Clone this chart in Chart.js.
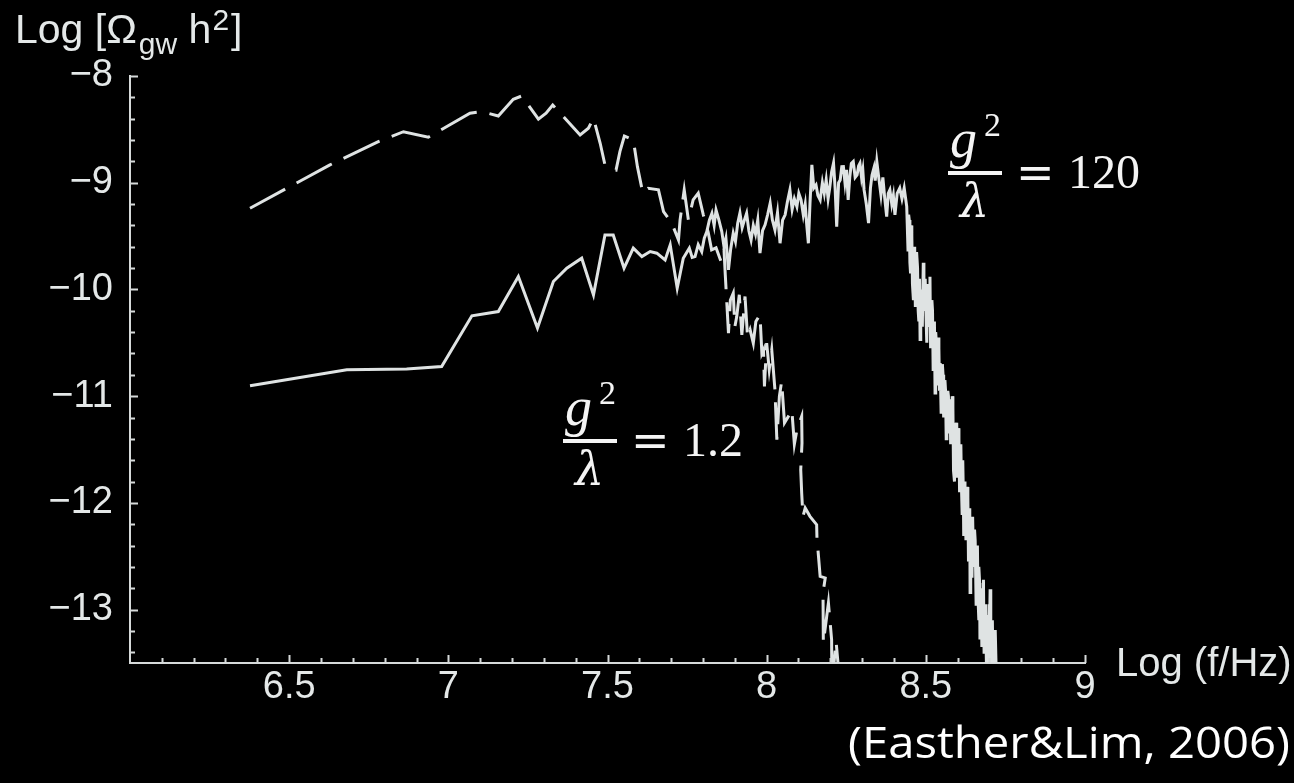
<!DOCTYPE html>
<html>
<head>
<meta charset="utf-8">
<script src="https://cdn.jsdelivr.net/npm/chart.js@4.4.1/dist/chart.umd.min.js"></script>
<style>
  html, body { margin: 0; padding: 0; background: #000; }
  #wrap { width: 1294px; height: 783px; }
</style>
</head>
<body>
<div id="wrap"><canvas id="chart" width="1294" height="783"></canvas></div>
<script>
// tick values
const xTicks = [6.5, 7, 7.5, 8, 8.5, 9];
const yTicks = [-13, -12, -11, -10, -9, -8];

// dashed curve, g^2/lambda = 1.2  [log f, log Omega h^2]
const dashedPoints = [
    [6.377, -9.239], [6.628, -8.833], [6.780, -8.615], [6.859, -8.522], [6.937, -8.574],
    [7.068, -8.349], [7.105, -8.334], [7.157, -8.375], [7.204, -8.218], [7.231, -8.187],
    [7.283, -8.405], [7.307, -8.349], [7.328, -8.272], [7.414, -8.552], [7.440, -8.490],
    [7.456, -8.396], [7.477, -8.630], [7.492, -8.833], [7.527, -8.880], [7.539, -8.709],
    [7.553, -8.562], [7.581, -8.599], [7.594, -8.849], [7.611, -9.098], [7.628, -9.052],
    [7.660, -9.067], [7.665, -9.130], [7.676, -9.271], [7.702, -9.379], [7.723, -9.536],
    [7.728, -9.348], [7.741, -9.067], [7.754, -9.348], [7.769, -9.161], [7.785, -9.098],
    [7.801, -9.301], [7.816, -9.461], [7.827, -9.629], [7.841, -9.610], [7.857, -9.742],
    [7.866, -9.629], [7.870, -9.863], [7.880, -10.409], [7.886, -10.10], [7.895, -10.035],
    [7.900, -10.35], [7.906, -10.254], [7.914, -10.05], [7.922, -10.425], [7.932, -10.066],
    [7.940, -10.45], [7.948, -10.378], [7.958, -10.503], [7.966, -10.30], [7.979, -10.238],
    [7.985, -10.60], [7.990, -10.566], [7.993, -10.909], [8.000, -10.503], [8.008, -10.75],
    [8.016, -10.566], [8.026, -10.940], [8.032, -11.408], [8.040, -11.00], [8.047, -10.862],
    [8.056, -11.25], [8.068, -11.190], [8.079, -11.127], [8.087, -11.45], [8.095, -11.315],
    [8.110, -11.190], [8.111, -11.439], [8.107, -11.689], [8.110, -11.907], [8.114, -12.127],
    [8.121, -12.048], [8.136, -12.126], [8.157, -12.204], [8.158, -12.329], [8.168, -12.688],
    [8.184, -12.703], [8.177, -12.841], [8.178, -13.312], [8.194, -12.937], [8.204, -13.281],
    [8.205, -13.7], [8.218, -13.297], [8.230, -13.7]
];

// solid curve, g^2/lambda = 120
const solidPoints = [
    [6.377, -10.903], [6.681, -10.753], [6.869, -10.746], [6.979, -10.722], [7.074, -10.247],
    [7.157, -10.207], [7.220, -9.879], [7.280, -10.362], [7.330, -9.926], [7.372, -9.801],
    [7.419, -9.707], [7.456, -10.051], [7.492, -9.489], [7.518, -9.489], [7.552, -9.801],
    [7.581, -9.613], [7.608, -9.692], [7.634, -9.645], [7.655, -9.660], [7.681, -9.723],
    [7.697, -9.582], [7.719, -9.988], [7.738, -9.707], [7.757, -9.613], [7.766, -9.70],
    [7.775, -9.692], [7.785, -9.58], [7.796, -9.645], [7.804, -9.52], [7.812, -9.458],
    [7.820, -9.35], [7.828, -9.286], [7.835, -9.40], [7.841, -9.255], [7.850, -9.35],
    [7.859, -9.458], [7.866, -9.60], [7.872, -9.52], [7.880, -9.816], [7.887, -9.62],
    [7.895, -9.473], [7.902, -9.55], [7.909, -9.38], [7.916, -9.283], [7.923, -9.42],
    [7.930, -9.35], [7.937, -9.286], [7.944, -9.45], [7.951, -9.536], [7.958, -9.40],
    [7.965, -9.48], [7.972, -9.35], [7.979, -9.660], [7.987, -9.45], [7.995, -9.395],
    [8.003, -9.30], [8.011, -9.192], [8.018, -9.35], [8.026, -9.442], [8.034, -9.28],
    [8.042, -9.567], [8.050, -9.35], [8.058, -9.301], [8.065, -9.18], [8.073, -9.067],
    [8.080, -9.25], [8.087, -9.15], [8.095, -9.224], [8.101, -9.10], [8.108, -9.161],
    [8.115, -9.30], [8.121, -9.20], [8.126, -9.40], [8.131, -9.567], [8.136, -9.20],
    [8.142, -8.833], [8.148, -9.05], [8.155, -9.021], [8.161, -9.12], [8.168, -9.161],
    [8.175, -9.00], [8.181, -9.10], [8.187, -8.974], [8.193, -9.15], [8.198, -9.05],
    [8.204, -8.90], [8.210, -8.817], [8.215, -9.05], [8.220, -9.411], [8.226, -9.00],
    [8.231, -8.974], [8.236, -8.85], [8.241, -8.849], [8.246, -9.00], [8.251, -8.88],
    [8.256, -9.161], [8.261, -8.95], [8.266, -8.82], [8.272, -8.802], [8.278, -8.95],
    [8.284, -8.927], [8.289, -8.84], [8.293, -8.817], [8.298, -8.95], [8.302, -8.88],
    [8.306, -9.067], [8.313, -9.20], [8.320, -9.379], [8.326, -9.05], [8.331, -8.927],
    [8.337, -8.86], [8.341, -8.98], [8.346, -8.802], [8.352, -8.95], [8.359, -9.114],
    [8.365, -8.95], [8.371, -9.15], [8.377, -9.317], [8.382, -9.10], [8.387, -9.067],
    [8.393, -9.20], [8.398, -9.12], [8.403, -9.301], [8.410, -9.10], [8.418, -9.051],
    [8.425, -9.15], [8.432, -9.05], [8.440, -9.224],
    [8.444, -9.63], [8.446, -9.30], [8.448, -9.35], [8.450, -9.75], [8.452, -9.85],
    [8.454, -9.40], [8.456, -9.50], [8.458, -9.95], [8.461, -10.10], [8.463, -9.60],
    [8.465, -9.70], [8.467, -10.15], [8.469, -10.00], [8.471, -9.65], [8.474, -9.80],
    [8.476, -10.20], [8.478, -10.30], [8.480, -9.90], [8.482, -10.47], [8.484, -10.10],
    [8.487, -10.00], [8.489, -10.35], [8.492, -9.75], [8.494, -10.15], [8.496, -10.20],
    [8.498, -9.90], [8.501, -10.29], [8.503, -10.50], [8.505, -9.95], [8.507, -10.25],
    [8.509, -10.35], [8.511, -10.05], [8.513, -9.88], [8.515, -10.55], [8.517, -10.40],
    [8.519, -10.10], [8.521, -10.20], [8.523, -10.75], [8.525, -10.60], [8.527, -10.30],
    [8.529, -10.97], [8.531, -10.40], [8.533, -10.50], [8.535, -10.90], [8.537, -10.75],
    [8.539, -10.45], [8.541, -10.55], [8.543, -10.95], [8.545, -10.69], [8.548, -11.15],
    [8.550, -11.00], [8.552, -10.70], [8.554, -10.80], [8.556, -11.20], [8.558, -11.10],
    [8.560, -10.85], [8.562, -10.95], [8.564, -11.40], [8.566, -11.25], [8.569, -10.95],
    [8.571, -11.00], [8.573, -11.35], [8.576, -11.03], [8.578, -11.45], [8.580, -11.30],
    [8.583, -11.00], [8.585, -11.10], [8.587, -11.70], [8.590, -11.80], [8.592, -11.25],
    [8.594, -11.30], [8.597, -11.25], [8.599, -11.75], [8.600, -11.60], [8.602, -11.30],
    [8.604, -11.40], [8.606, -11.90], [8.608, -11.60], [8.610, -11.45], [8.612, -11.85],
    [8.614, -12.10], [8.616, -11.60], [8.618, -11.95], [8.619, -12.31], [8.621, -11.80],
    [8.623, -11.90], [8.626, -12.35], [8.628, -12.10], [8.630, -11.85], [8.632, -11.95],
    [8.634, -12.55], [8.636, -12.40], [8.638, -12.05], [8.639, -12.84], [8.641, -12.45],
    [8.643, -12.20], [8.645, -12.70], [8.647, -12.13], [8.649, -12.45], [8.651, -12.60],
    [8.653, -12.25], [8.655, -12.35], [8.658, -12.95], [8.660, -12.56], [8.662, -12.40],
    [8.664, -12.90], [8.666, -13.10], [8.667, -12.60], [8.669, -12.75], [8.670, -13.28],
    [8.672, -12.85], [8.674, -12.80], [8.676, -13.35], [8.678, -13.10], [8.680, -12.90],
    [8.681, -12.72], [8.683, -13.40], [8.685, -13.20], [8.687, -12.95], [8.688, -13.00],
    [8.690, -13.45], [8.691, -13.60], [8.693, -13.05], [8.695, -13.10], [8.697, -13.55],
    [8.699, -12.95], [8.700, -13.20], [8.702, -12.81], [8.704, -13.50], [8.706, -13.30],
    [8.709, -13.10], [8.711, -13.60], [8.713, -13.40], [8.715, -13.30], [8.716, -13.70],
    [8.718, -13.19], [8.722, -13.70]
];

const lineColor = "#dfe3e3";
const axisColor = "#d6dada";
const textColor = "#e4e8e8";

// ticks drawn inward, like the original plot
const inwardTicks = {
    id: "inwardTicks",
    afterDatasetsDraw(chart) {
        const ctx = chart.ctx;
        const x = chart.scales.x;
        const y = chart.scales.y;
        ctx.save();
        ctx.strokeStyle = axisColor;
        ctx.lineWidth = 2;
        ctx.beginPath();
        for (let i = 61; i <= 90; i++) {
            let px = Math.round(x.getPixelForValue(i / 10)) + 0.5;
            let len = i % 5 === 0 ? 8 : 5;
            ctx.moveTo(px, y.bottom);
            ctx.lineTo(px, y.bottom - len);
        }
        for (let i = -67; i <= -40; i++) {
            let py = Math.round(y.getPixelForValue(i / 5)) + 0.5;
            let len = i % 5 === 0 ? 8 : 5;
            ctx.moveTo(x.left, py);
            ctx.lineTo(x.left + len, py);
        }
        ctx.stroke();
        ctx.restore();
    }
};

function drawFraction(ctx, left, barY, value) {
    ctx.fillStyle = "#f4f4f4";
    ctx.textBaseline = "alphabetic";
    ctx.textAlign = "left";
    ctx.font = "italic 54px 'Liberation Serif'";
    ctx.fillText("g", left + 2, barY - 16);
    ctx.font = "34px 'Liberation Serif'";
    ctx.fillText("2", left + 36, barY - 37);
    ctx.font = "italic 46px 'DejaVu Serif'";
    ctx.fillText("λ", left + 12, barY + 44);
    ctx.fillRect(left, barY - 2, 54, 4);
    ctx.font = "46px 'DejaVu Serif'";
    ctx.fillText("=", left + 68, barY + 15);
    ctx.font = "48px 'Liberation Serif'";
    ctx.fillText(value, left + 120, barY + 15);
}

const labels = {
    id: "labels",
    afterDraw(chart) {
        const ctx = chart.ctx;
        ctx.save();
        ctx.fillStyle = textColor;
        ctx.textAlign = "left";
        ctx.textBaseline = "alphabetic";

        // y axis title: Log [Ω_gw h²]
        let cx = 15;
        ctx.font = "41px 'Liberation Sans'";
        ctx.fillText("Log [Ω", cx, 43);
        cx += ctx.measureText("Log [Ω").width + 2;
        ctx.font = "30px 'Liberation Sans'";
        ctx.fillText("gw", cx, 54);
        cx += ctx.measureText("gw").width;
        ctx.font = "41px 'Liberation Sans'";
        ctx.fillText(" h", cx, 43);
        cx += ctx.measureText(" h").width + 1;
        ctx.font = "30px 'Liberation Sans'";
        ctx.fillText("2", cx, 30);
        cx += ctx.measureText("2").width + 2;
        ctx.font = "41px 'Liberation Sans'";
        ctx.fillText("]", cx, 43);

        // x axis title
        ctx.font = "40px 'Liberation Sans'";
        ctx.textBaseline = "middle";
        ctx.fillText("Log (f/Hz)", 1116, 665);

        // source
        ctx.font = "44px 'Open Sans'";
        ctx.fillStyle = "#ffffff";
        let w = ctx.measureText("(Easther&Lim, 2006)").width;
        ctx.save();
        ctx.translate(848, 745);
        ctx.scale(442 / w, 1);
        ctx.fillText("(Easther&Lim, 2006)", 0, 0);
        ctx.restore();

        drawFraction(ctx, 563, 441, "1.2");
        drawFraction(ctx, 948, 173, "120");
        ctx.restore();
    }
};

new Chart(document.getElementById("chart"), {
    type: "line",
    data: {
        datasets: [
            {
                data: dashedPoints.map((p) => ({ x: p[0], y: p[1] })),
                borderColor: lineColor,
                borderWidth: 3,
                borderDash: [40, 13],
                pointRadius: 0,
                tension: 0
            },
            {
                data: solidPoints.map((p) => ({ x: p[0], y: p[1] })),
                borderColor: lineColor,
                borderWidth: 3,
                pointRadius: 0,
                tension: 0
            }
        ]
    },
    options: {
        responsive: false,
        animation: false,
        devicePixelRatio: 1,
        layout: { padding: { top: 76, right: 209, left: 0, bottom: 0 } },
        plugins: { legend: { display: false }, tooltip: { enabled: false } },
        scales: {
            x: {
                type: "linear",
                min: 6,
                max: 9,
                afterBuildTicks: (s) => { s.ticks = xTicks.map((v) => ({ value: v })); },
                afterFit: (s) => { s.height = 120; },
                grid: { display: false, drawTicks: false },
                border: { display: true, color: axisColor, width: 2 },
                ticks: {
                    color: textColor,
                    font: { family: "Liberation Sans", size: 38 },
                    padding: 2,
                    maxRotation: 0,
                    autoSkip: false,
                    callback: (v) => String(v)
                }
            },
            y: {
                type: "linear",
                min: -13.5,
                max: -8,
                afterBuildTicks: (s) => { s.ticks = yTicks.map((v) => ({ value: v })); },
                afterFit: (s) => { s.width = 130; },
                grid: { display: false, drawTicks: false },
                border: { display: true, color: axisColor, width: 2 },
                ticks: {
                    color: textColor,
                    font: { family: "Liberation Sans", size: 38 },
                    padding: 17,
                    autoSkip: false,
                    callback: (v) => "\u2212" + Math.abs(v)
                }
            }
        }
    },
    plugins: [inwardTicks, labels]
});
</script>
</body>
</html>
